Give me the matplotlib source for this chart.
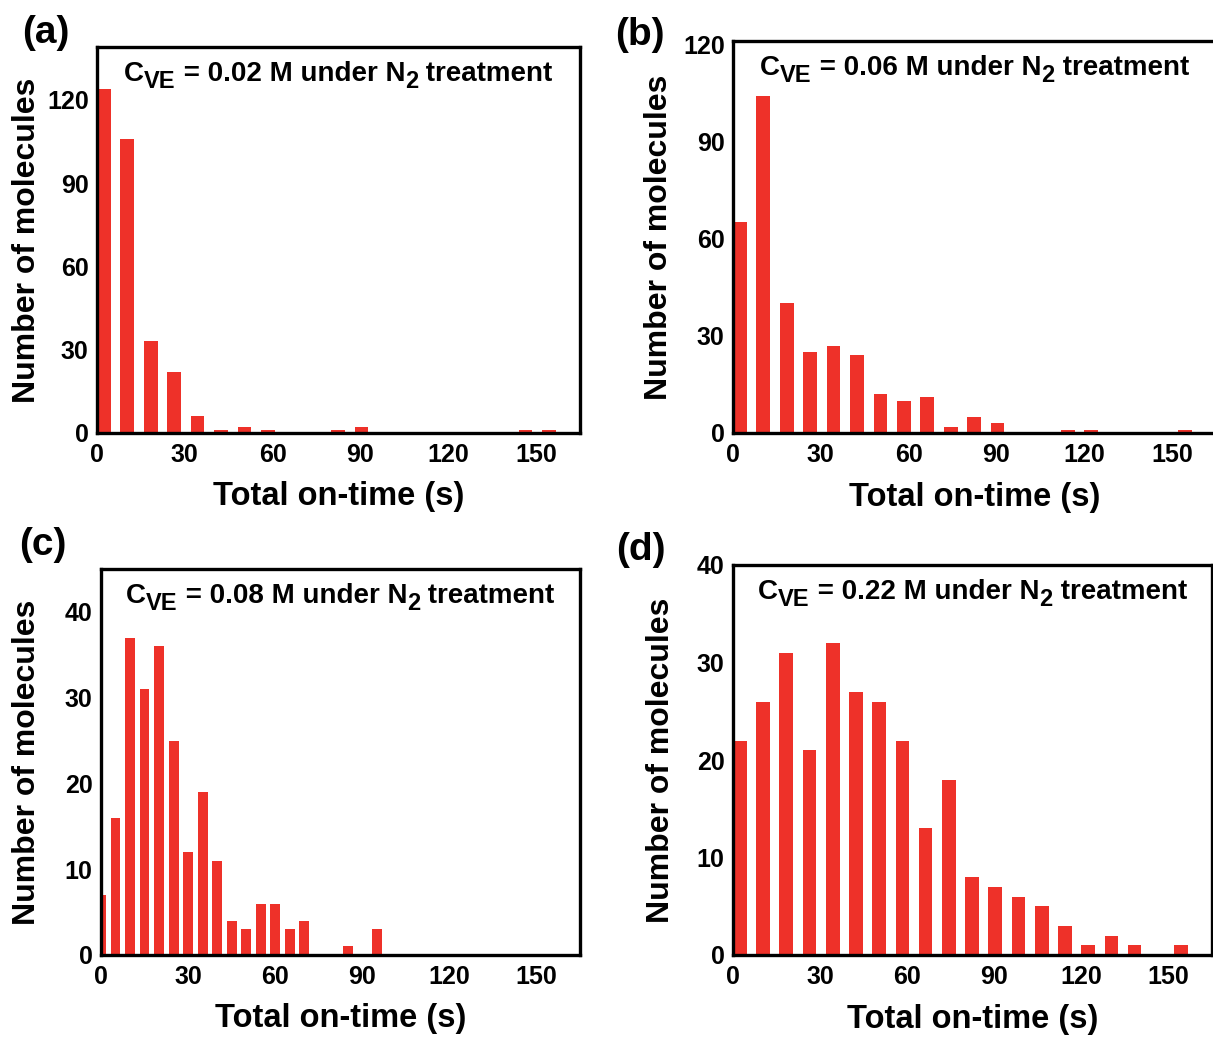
import matplotlib
matplotlib.use("Agg")
import matplotlib.pyplot as plt
import numpy as np

plt.rcParams['font.family'] = ['Liberation Sans', 'DejaVu Sans']
plt.rcParams['font.weight'] = 'bold'

# counts per bin
counts_a = [124, 106, 33, 22, 6, 1, 2, 1, 0, 0, 1, 2, 0, 0, 0, 0, 0, 0, 1, 1]
counts_b = [65, 104, 40, 25, 27, 24, 12, 10, 11, 2, 5, 3, 0, 0, 1, 1, 0, 0, 0, 1]
counts_c = [7, 16, 37, 31, 36, 25, 12, 19, 11, 4, 3, 6, 6, 3, 4, 0, 0, 1, 0, 3]
counts_d = [22, 26, 31, 21, 32, 27, 26, 22, 13, 18, 8, 7, 6, 5, 3, 1, 2, 1, 0, 1]

bin_ab = 8   # s, panels a, b, d
bin_c = 5    # s, panel c

conc = ["0.02", "0.06", "0.08", "0.22"]
letters = ["(a)", "(b)", "(c)", "(d)"]
xticks = [0, 30, 60, 90, 120, 150]
yticks_top = [0, 30, 60, 90, 120]
yticks_bot = [0, 10, 20, 30, 40]

W, H = 1213, 1038
fig = plt.figure(figsize=(W / 100, H / 100), dpi=100)

red = '#EE3129'

# pixel boxes: left, right, top, bottom
boxes = [(97, 580, 47, 433), (733, 1216, 41, 433),
         (101, 580, 569, 955), (733, 1212, 565, 955)]
ylims = [139, 121, 45, 40]
letter_pos = [(46, 33), (640, 35), (43, 545), (641, 550)]
ylabel_x = [42, 674, 42, 676]


def add_ax(box):
    l, r, t, b = box
    return fig.add_axes([l / W, 1 - b / H, (r - l) / W, (b - t) / H])


def sub_text(ax, parts, y_px, size):
    # draw text pieces with subscripts, centred on the axes
    renderer = fig.canvas.get_renderer()
    objs = []
    widths = []
    for s, is_sub in parts:
        fs = size * 0.85 if is_sub else size
        t = ax.text(0, 0, s, fontsize=fs, fontweight='bold',
                    transform=None, va='baseline', ha='left')
        objs.append((t, is_sub))
        widths.append(t.get_window_extent(renderer).width)
    bb = ax.get_window_extent(renderer)
    x = (bb.x0 + bb.x1) / 2 - sum(widths) / 2
    ybase = H - y_px
    for (t, is_sub), w in zip(objs, widths):
        t.set_position((x, ybase - (7.5 if is_sub else 0)))
        x += w


panels = [counts_a, counts_b, counts_c, counts_d]
for i, counts in enumerate(panels):
    ax = add_ax(boxes[i])
    n = np.arange(len(counts))
    if i == 2:
        ax.bar(n * bin_c, counts, width=3.4, color=red, align='center')
    else:
        ax.bar(n * bin_ab, counts, width=4.7, color=red, align='edge')
    ax.set_xlim(0, 165)
    ax.set_ylim(0, ylims[i])
    ax.set_xticks(xticks)
    ax.set_yticks(yticks_top if i < 2 else yticks_bot)
    ax.tick_params(length=0, labelsize=18)
    ax.tick_params(axis='y', pad=6)
    ax.tick_params(axis='x', pad=7)
    for lab in ax.get_xticklabels() + ax.get_yticklabels():
        lab.set_fontweight('bold')
    for sp in ax.spines.values():
        sp.set_linewidth(2.4)
    ax.set_xlabel("Total on-time (s)", fontsize=23.5, fontweight='bold')
    ax.set_ylabel("Number of molecules", fontsize=23, fontweight='bold')
    ax.xaxis.set_label_coords(0.5, -0.125)
    l, r, t, b = boxes[i]
    ax.yaxis.set_label_coords((ylabel_x[i] - l) / (r - l), 0.5)

    parts = [("C", False), ("VE", True),
             (" = " + conc[i] + " M under N", False), ("2", True),
             (" treatment", False)]
    sub_text(ax, parts, t + 34, 20)

    fig.text(letter_pos[i][0] / W, 1 - letter_pos[i][1] / H, letters[i],
             fontsize=28, fontweight='bold', ha='center', va='center')

fig.savefig("out.png", dpi=100)
